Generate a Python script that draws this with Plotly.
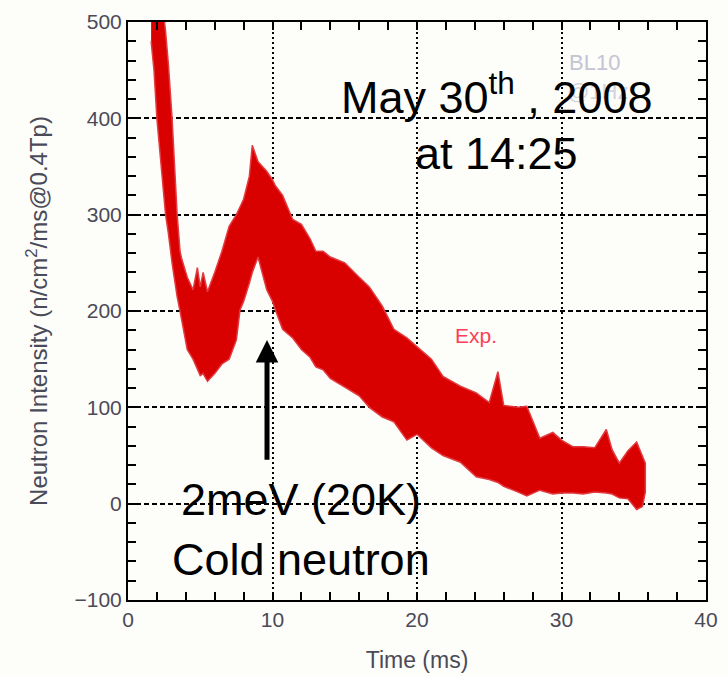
import plotly.graph_objects as go

# Time of flight (ms) and envelope of the noisy signal
t_ms = [1.6, 1.8, 2.0, 2.3, 2.6, 2.8, 3.05, 3.25, 3.4, 3.6, 3.7, 4.1, 4.5, 4.8, 5.0, 5.2, 5.5,
        6.0, 6.5, 7.0, 7.5, 7.75, 8.0, 8.4, 8.6, 9.0, 9.6, 10.0, 10.2, 10.7, 11.4, 12.0, 12.6,
        13.0, 13.5, 14.0, 15.0, 16.0, 16.7, 17.6, 18.4, 19.3, 20.0, 21.0, 21.8, 23.0, 24.1,
        25.0, 25.6, 26.0, 27.0, 27.6, 28.5, 29.4, 30.0, 30.8, 31.5, 32.3, 33.1, 33.5, 34.0,
        34.6, 35.2, 35.6, 35.8]
upper = [560, 580, 560, 530, 490, 455, 400, 340, 300, 262, 255, 235, 222, 245, 225, 240, 220,
         240, 262, 288, 300, 308, 316, 340, 372, 355, 345, 336, 330, 320, 295, 290, 275,
         262, 262, 256, 250, 235, 225, 205, 181, 172, 163, 150, 132, 122, 115,
         105, 137, 102, 100, 101, 68, 74, 66, 59, 59, 58, 77, 56, 42,
         55, 64, 50, 42]
lower = [480, 450, 400, 350, 300, 280, 250, 229, 215, 200, 194, 160, 150, 140, 133, 135, 127,
         135, 145, 150, 170, 201, 210, 229, 240, 256, 222, 210, 201, 181, 172, 160, 152,
         142, 139, 130, 121, 112, 100, 90, 85, 66, 72, 58, 50, 43, 28,
         25, 22, 18, 12, 8, 14, 10, 11, 11, 10, 12, 11, 10, 6,
         5, -6, -3, 12]

x_range = [0, 40]
y_range = [-100, 500]

fig = go.Figure()
fig.add_trace(go.Scatter(
    x=t_ms + t_ms[::-1],
    y=upper + lower[::-1],
    fill="toself",
    fillcolor="#d90000",
    line=dict(color="#e23a40", width=1.5),
    mode="lines",
    hoverinfo="skip",
    showlegend=False,
))

FONT = "Arial, Liberation Sans"
tick_color = "#4a4a58"
axis_common = dict(
    showline=True, linecolor="black", linewidth=2, mirror="allticks",
    ticks="inside", ticklen=8, tickwidth=2, tickcolor="black",
    showgrid=True, gridcolor="black", gridwidth=1.5,
    zeroline=False, automargin=False,
    tickfont=dict(family=FONT, size=21, color=tick_color),
)

fig.update_xaxes(
    range=x_range, tick0=0, dtick=10, griddash="2px,3px",
    minor=dict(dtick=2, ticks="inside", ticklen=8, tickwidth=2, tickcolor="black", showgrid=False),
    title=dict(text="Time (ms)", font=dict(family=FONT, size=23, color=tick_color), standoff=22),
    **axis_common,
)
fig.update_yaxes(
    range=y_range, tick0=0, dtick=100, griddash="5px,3px",
    minor=dict(dtick=20, ticks="inside", ticklen=8, tickwidth=2, tickcolor="black", showgrid=False),
    title=dict(text="Neutron Intensity (n/cm<sup>2</sup>/ms@0.4Tp)",
               font=dict(family=FONT, size=24, color=tick_color), standoff=20),
    **axis_common,
)

big = dict(family=FONT, size=45, color="black")
fig.add_annotation(x=32.3, y=458, text="BL10", showarrow=False, xanchor="center",
                   font=dict(family=FONT, size=22, color="#c4c4d4"))
fig.add_annotation(x=32.5, y=428, text="@1Hz", showarrow=False, xanchor="center",
                   font=dict(family=FONT, size=22, color="#d4d4e0"))
fig.add_annotation(x=25.5, y=425, text="May 30<sup>th</sup> , 2008", showarrow=False, font=big)
fig.add_annotation(x=25.5, y=364, text="at 14:25", showarrow=False, font=big)
fig.add_annotation(x=24.1, y=175, text="Exp.", showarrow=False,
                   font=dict(family=FONT, size=21, color="#ff3c5a"))
fig.add_annotation(x=12.0, y=4, text="2meV (20K)", showarrow=False, font=big)
fig.add_annotation(x=12.0, y=-58, text="Cold neutron", showarrow=False, font=big)
fig.add_annotation(x=9.62, y=170, ax=9.62, ay=44, xref="x", yref="y", axref="x", ayref="y",
                   text="", showarrow=True, arrowhead=2, arrowsize=0.9, arrowwidth=5,
                   arrowcolor="black")

fig.update_layout(
    width=728, height=677,
    margin=dict(l=128, r=22, t=22, b=77),
    paper_bgcolor="#fdfdf9", plot_bgcolor="#fdfdf9",
    showlegend=False,
)

fig.write_html("out.html")
